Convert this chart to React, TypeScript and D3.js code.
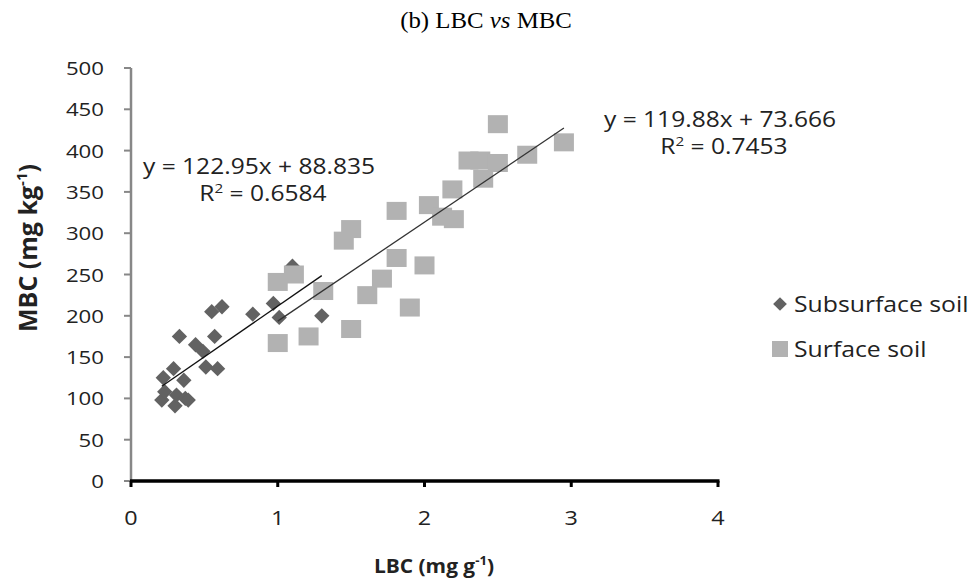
import React, { useRef, useEffect } from "react";
import * as d3 from "d3";

// LBC (mg g-1) vs MBC (mg kg-1)
const subsurfaceLBC = [0.21, 0.22, 0.23, 0.29, 0.3, 0.31, 0.33, 0.36, 0.37, 0.39, 0.44, 0.49, 0.51, 0.55, 0.57, 0.59, 0.62, 0.83, 0.97, 1.01, 1.1, 1.3];
const subsurfaceMBC = [98, 125, 108, 136, 91, 104, 175, 122, 100, 98, 165, 157, 138, 205, 175, 136, 211, 202, 215, 198, 260, 200];

const surfaceLBC = [1.0, 1.0, 1.11, 1.21, 1.31, 1.45, 1.5, 1.5, 1.61, 1.71, 1.81, 1.81, 1.9, 2.0, 2.03, 2.12, 2.19, 2.2, 2.3, 2.38, 2.4, 2.5, 2.5, 2.7, 2.95];
const surfaceMBC = [241, 167, 250, 175, 230, 291, 305, 184, 225, 245, 327, 270, 210, 261, 334, 320, 353, 317, 388, 388, 366, 432, 385, 395, 410];

// linear trendlines as printed on the chart
const subsurfaceFit = { slope: 122.95, intercept: 88.835, r2: "0.6584" };
const surfaceFit = { slope: 119.88, intercept: 73.666, r2: "0.7453" };

const xTicks = [0, 1, 2, 3, 4];
const yTicks = [0, 50, 100, 150, 200, 250, 300, 350, 400, 450, 500];
const seriesNames = ["Subsurface soil", "Surface soil"];

const W = 973;
const H = 581;
const sans = "'Open Sans', 'Noto Sans', sans-serif";
const SX = 1.17; // the source image is a bit stretched sideways

function App() {
  const svgRef = useRef(null);

  useEffect(() => {
    document.body.style.margin = "0";
    const svg = d3.select(svgRef.current);
    svg.selectAll("*").remove();

    const x = d3.scaleLinear().domain([0, 4]).range([131, 718]);
    const y = d3.scaleLinear().domain([0, 500]).range([481, 68]);

    // text placed at (tx,ty) and widened by sx
    const stretched = (parent, tx, ty, size, anchor, sx = SX) =>
      parent
        .append("text")
        .attr("transform", `translate(${tx},${ty}) scale(${sx},1)`)
        .attr("text-anchor", anchor)
        .style("font-family", sans)
        .style("font-size", size + "px")
        .attr("fill", "#222");

    // title
    const title = svg
      .append("text")
      .attr("transform", "translate(486,28) scale(1.08,1)")
      .attr("text-anchor", "middle")
      .style("font-family", "'Liberation Serif', 'Times New Roman', serif")
      .style("font-size", "23px")
      .attr("fill", "#000");
    title.append("tspan").text("(b) LBC ");
    title.append("tspan").style("font-style", "italic").text("vs");
    title.append("tspan").text(" MBC");

    // y axis (grey)
    const yAxis = svg.append("g");
    yAxis
      .append("line")
      .attr("x1", x(0))
      .attr("x2", x(0))
      .attr("y1", y(500))
      .attr("y2", y(0))
      .attr("stroke", "#878787")
      .attr("stroke-width", 2.5);
    yAxis
      .selectAll("line.tick")
      .data(yTicks)
      .join("line")
      .attr("class", "tick")
      .attr("x1", x(0) - 7)
      .attr("x2", x(0))
      .attr("y1", (d) => y(d))
      .attr("y2", (d) => y(d))
      .attr("stroke", "#878787")
      .attr("stroke-width", 2);
    yTicks.forEach((d) => {
      stretched(yAxis, 104, y(d) + 7, 19, "end").text(d);
    });

    // x axis (black)
    const xAxis = svg.append("g");
    xAxis
      .selectAll("line.tick")
      .data(xTicks)
      .join("line")
      .attr("class", "tick")
      .attr("x1", (d) => x(d))
      .attr("x2", (d) => x(d))
      .attr("y1", y(0))
      .attr("y2", y(0) + 6)
      .attr("stroke", "#000")
      .attr("stroke-width", 3);
    xAxis
      .append("line")
      .attr("x1", x(0) - 1)
      .attr("x2", x(4) + 1.5)
      .attr("y1", y(0))
      .attr("y2", y(0))
      .attr("stroke", "#000")
      .attr("stroke-width", 3.5);
    xTicks.forEach((d) => {
      stretched(xAxis, x(d), 525, 20, "middle").text(d);
    });

    // axis titles
    const xt = stretched(svg, 434, 573, 19, "middle", 1.1).style("font-weight", "bold");
    xt.append("tspan").text("LBC (mg g");
    xt.append("tspan").attr("dy", -8).style("font-size", "12px").text("-1");
    xt.append("tspan").attr("dy", 8).text(")");

    const yt = svg
      .append("text")
      .attr("transform", `translate(37,${248}) rotate(-90)`)
      .attr("text-anchor", "middle")
      .style("font-family", sans)
      .style("font-size", "25px")
      .style("font-weight", "bold")
      .attr("fill", "#222");
    yt.append("tspan").text("MBC (mg kg");
    yt.append("tspan").attr("dy", -10).style("font-size", "15px").text("-1");
    yt.append("tspan").attr("dy", 10).text(")");

    // points
    const sub = subsurfaceLBC.map((v, i) => [v, subsurfaceMBC[i]]);
    const surf = surfaceLBC.map((v, i) => [v, surfaceMBC[i]]);

    const diamond = d3.symbol().type(d3.symbolDiamond2).size(150);
    svg
      .append("g")
      .selectAll("path")
      .data(sub)
      .join("path")
      .attr("d", diamond)
      .attr("transform", (d) => `translate(${x(d[0])},${y(d[1])})`)
      .attr("fill", "#626262");

    svg
      .append("g")
      .selectAll("rect")
      .data(surf)
      .join("rect")
      .attr("x", (d) => x(d[0]) - 10)
      .attr("y", (d) => y(d[1]) - 9)
      .attr("width", 20)
      .attr("height", 18)
      .attr("fill", "#b2b2b2");

    // trendlines over the data range
    const fitLine = (xs, fit) => {
      const [lo, hi] = d3.extent(xs);
      return [lo, hi].map((v) => [x(v), y(fit.slope * v + fit.intercept)]);
    };
    const line = d3.line();
    svg
      .append("path")
      .attr("d", line(fitLine(subsurfaceLBC, subsurfaceFit)))
      .attr("stroke", "#111")
      .attr("stroke-width", 1.3)
      .attr("fill", "none");
    svg
      .append("path")
      .attr("d", line(fitLine(surfaceLBC, surfaceFit)))
      .attr("stroke", "#333")
      .attr("stroke-width", 1.3)
      .attr("fill", "none");

    // equation labels
    const eq = (cx, cy, fit) => {
      stretched(svg, cx, cy, 21, "middle").text(`y = ${fit.slope}x + ${fit.intercept}`);
      const r = stretched(svg, cx + 4, cy + 27, 21, "middle");
      r.append("tspan").text("R");
      r.append("tspan").attr("dy", -8).style("font-size", "13px").text("2");
      r.append("tspan").attr("dy", 8).text(` = ${fit.r2}`);
    };
    eq(259, 174, subsurfaceFit);
    eq(720, 127, surfaceFit);

    // legend
    const legend = svg.append("g");
    legend
      .append("path")
      .attr("d", d3.symbol().type(d3.symbolDiamond2).size(120)())
      .attr("transform", "translate(780,304)")
      .attr("fill", "#626262");
    legend
      .append("rect")
      .attr("x", 772)
      .attr("y", 341)
      .attr("width", 16)
      .attr("height", 16)
      .attr("fill", "#b2b2b2");
    seriesNames.forEach((d, i) => {
      stretched(legend, 794, 312 + i * 45, 21, "start", 1.18).text(d);
    });
  }, []);

  return (
    <>
      <svg ref={svgRef} width={W} height={H} style={{ display: "block", background: "#fff" }}></svg>
    </>
  );
}

export default App;
